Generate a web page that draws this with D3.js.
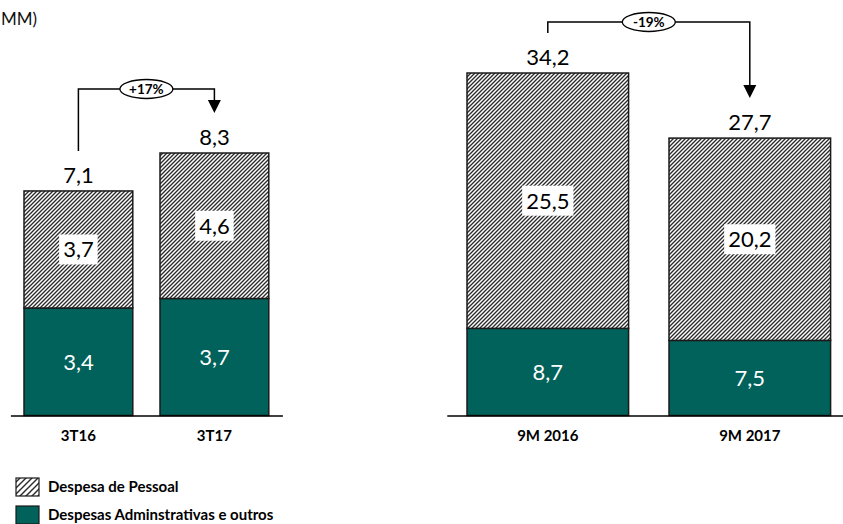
<!DOCTYPE html>
<html>
<head>
<meta charset="utf-8">
<script src="https://cdn.jsdelivr.net/npm/d3@7/dist/d3.min.js"></script>
<style>
  html, body { margin: 0; padding: 0; background: #fff; overflow: hidden; }
  svg { display: block; font-family: Lato, "Open Sans", sans-serif; }
</style>
</head>
<body>
<svg id="chart" width="843" height="524"></svg>
<script>
// ---- data ----
const categoriesQ = ["3T16", "3T17"];
const pessoalQ = [3.7, 4.6];
const adminQ = [3.4, 3.7];
const totalsQ = [7.1, 8.3];
const changeQ = "+17%";

const categoriesM = ["9M 2016", "9M 2017"];
const pessoalM = [25.5, 20.2];
const adminM = [8.7, 7.5];
const totalsM = [34.2, 27.7];
const changeM = "-19%";

const legendLabels = ["Despesa de Pessoal", "Despesas Adminstrativas e outros"];
const unitLabel = "MM)";

// ---- styles ----
const GREEN = "#00625a";
const OUTLINE = "#1a1a1a";
const baseY = 415.5;

const svg = d3.select("#chart");
const defs = svg.append("defs");

function hatch(id, s, w) {
  const p = defs.append("pattern").attr("id", id)
    .attr("patternUnits", "userSpaceOnUse").attr("width", s).attr("height", s);
  p.append("rect").attr("width", s).attr("height", s).attr("fill", "#fff");
  p.append("path")
    .attr("d", `M${-s/2},${s/2} L${s/2},${-s/2} M0,${s} L${s},0 M${s/2},${s*1.5} L${s*1.5},${s/2}`)
    .attr("stroke", "#2a2a2a").attr("stroke-width", w);
}
hatch("hatch", 4, 1.35);
hatch("hatchLegend", 6, 1.4);

// unit label (only its end is visible in the reference)
svg.append("text").attr("x", 1).attr("y", 25)
  .attr("font-size", 17).attr("fill", "#111").text(unitLabel);

function panel(cfg) {
  const x = d3.scaleBand().domain(cfg.cats).range(cfg.xr).paddingInner(0.2).paddingOuter(0.1);
  const y = d3.scaleLinear().domain([0, d3.max(cfg.totals)]).range([baseY, cfg.topY]);
  const g = svg.append("g");
  const rows = cfg.cats.map((c, i) => ({ c, p: cfg.pessoal[i], a: cfg.admin[i], t: cfg.totals[i] }));
  const fmt = v => d3.format(".1f")(v).replace(".", ",");

  // admin (green) segment
  g.selectAll(".adm").data(rows).join("rect")
    .attr("x", d => x(d.c)).attr("width", x.bandwidth())
    .attr("y", d => y(d.a)).attr("height", d => y(0) - y(d.a))
    .attr("fill", GREEN).attr("stroke", OUTLINE).attr("stroke-width", 1.5);
  // pessoal (hatched) segment
  g.selectAll(".pes").data(rows).join("rect")
    .attr("x", d => x(d.c)).attr("width", x.bandwidth())
    .attr("y", d => y(d.a + d.p)).attr("height", d => y(d.a) - y(d.a + d.p))
    .attr("fill", "url(#hatch)").attr("stroke", OUTLINE).attr("stroke-width", 1.5);

  // green labels
  g.selectAll(".admLbl").data(rows).join("text")
    .attr("x", d => x(d.c) + x.bandwidth() / 2)
    .attr("y", d => (y(0) + y(d.a)) / 2).attr("dy", "0.36em")
    .attr("text-anchor", "middle").attr("font-size", 22).attr("fill", "#fff")
    .text(d => fmt(d.a));

  // pessoal labels with white box
  rows.forEach(d => {
    const cx = x(d.c) + x.bandwidth() / 2;
    const cy = (y(d.a) + y(d.a + d.p)) / 2;
    const box = g.append("rect").attr("fill", "#fff");
    const t = g.append("text").attr("x", cx).attr("y", cy).attr("dy", "0.36em")
      .attr("text-anchor", "middle").attr("font-size", 22).attr("fill", "#000")
      .text(fmt(d.p));
    const bb = t.node().getBBox();
    box.attr("x", bb.x - 4).attr("width", bb.width + 8).attr("y", cy - 15).attr("height", 30);
  });

  // totals
  g.selectAll(".tot").data(rows).join("text")
    .attr("x", d => x(d.c) + x.bandwidth() / 2)
    .attr("y", d => y(d.t) - 8)
    .attr("text-anchor", "middle").attr("font-size", 22).attr("fill", "#000")
    .text(d => fmt(d.t));

  // axis
  const ax = g.append("g").attr("transform", `translate(0,${baseY})`)
    .call(d3.axisBottom(x).tickSize(0).tickSizeOuter(0).tickPadding(15));
  ax.select(".domain").attr("stroke", "#000").attr("stroke-width", 1.5);
  ax.selectAll("text").attr("font-size", 15).attr("font-weight", "bold")
    .attr("fill", "#000").attr("font-family", "Lato, sans-serif");

  // change bracket
  const x0 = x(cfg.cats[0]) + x.bandwidth() / 2;
  const x1 = x(cfg.cats[1]) + x.bandwidth() / 2;
  const yStart = y(cfg.totals[0]) - 40;
  const yEnd = y(cfg.totals[1]) - 40;
  const yb = cfg.bracketY;
  g.append("path")
    .attr("d", `M${x0},${yStart} V${yb} H${x1} V${yEnd - 12}`)
    .attr("fill", "none").attr("stroke", "#000").attr("stroke-width", 1.5);
  g.append("path")
    .attr("d", `M${x1 - 6.5},${yEnd - 13} L${x1 + 6.5},${yEnd - 13} L${x1},${yEnd} Z`)
    .attr("fill", "#000");
  const mx = (x0 + x1) / 2;
  g.append("ellipse").attr("cx", mx).attr("cy", yb).attr("rx", 26.5).attr("ry", 9.5)
    .attr("fill", "#fff").attr("stroke", "#000").attr("stroke-width", 1.3);
  g.append("text").attr("x", mx).attr("y", yb).attr("dy", "0.36em")
    .attr("text-anchor", "middle").attr("font-size", 13.5).attr("font-weight", "bold")
    .text(cfg.change);
}

panel({ cats: categoriesQ, pessoal: pessoalQ, admin: adminQ, totals: totalsQ, change: changeQ,
        xr: [10.4, 282.4], topY: 153, bracketY: 89 });
panel({ cats: categoriesM, pessoal: pessoalM, admin: adminM, totals: totalsM, change: changeM,
        xr: [446.8, 850.8], topY: 73, bracketY: 22 });

// legend
const lg = svg.append("g");
const fills = ["url(#hatchLegend)", GREEN];
legendLabels.forEach((lab, i) => {
  const yy = 478 + i * 28;
  lg.append("rect").attr("x", 16).attr("y", yy).attr("width", 23).attr("height", 18)
    .attr("fill", fills[i]).attr("stroke", OUTLINE).attr("stroke-width", 1.2);
  lg.append("text").attr("x", 48).attr("y", yy + 9).attr("dy", "0.36em")
    .attr("font-size", 15).attr("font-weight", "bold").attr("fill", "#000").text(lab);
});
</script>
</body>
</html>
